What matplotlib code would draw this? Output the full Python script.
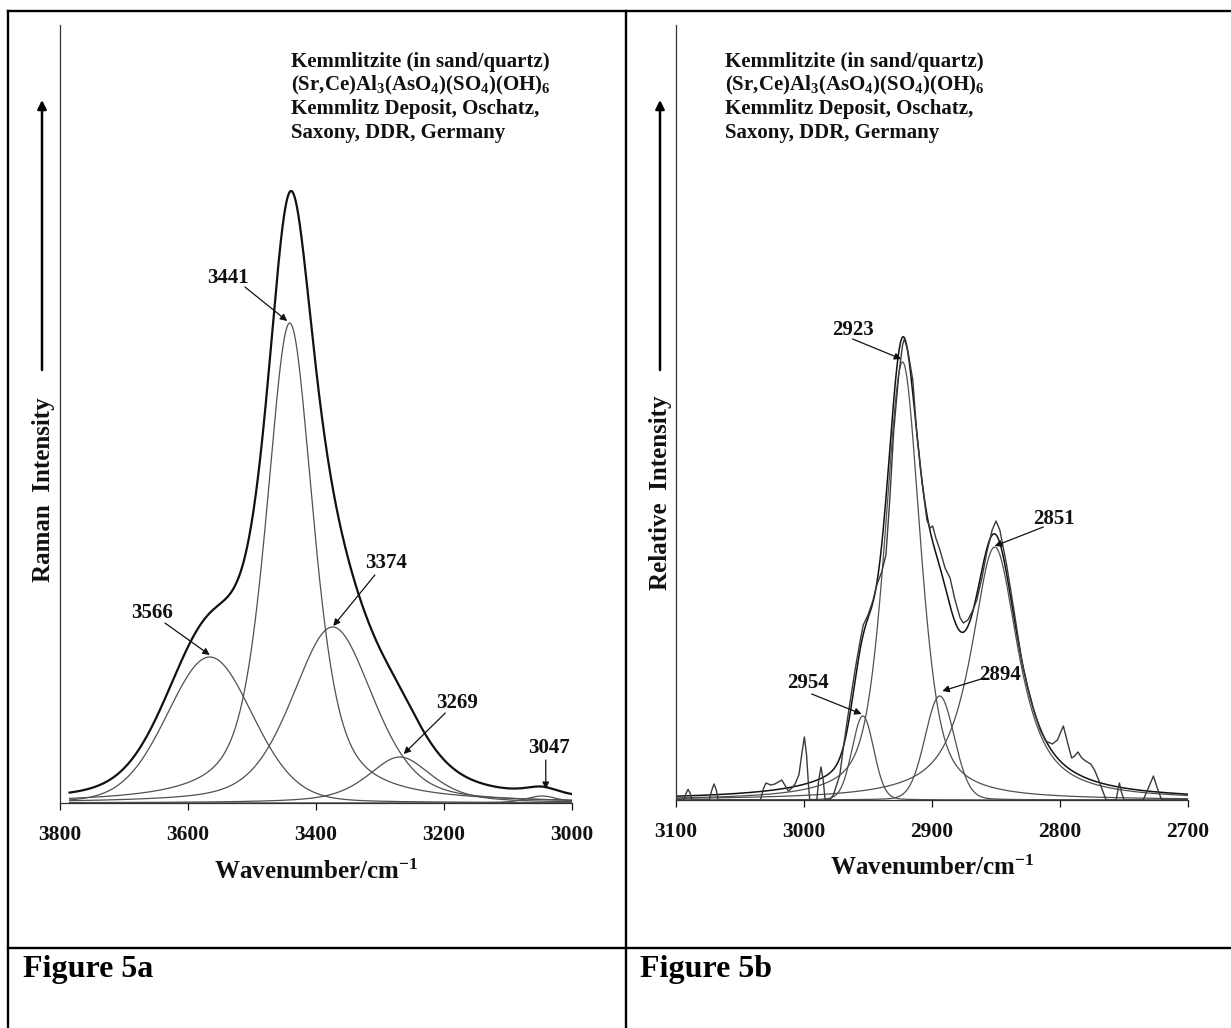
import numpy as np
import matplotlib

matplotlib.use("Agg")
import matplotlib.pyplot as plt
from matplotlib.lines import Line2D

plt.rcParams["font.family"] = ["Liberation Serif", "DejaVu Serif"]
plt.rcParams["font.weight"] = "bold"
plt.rcParams["mathtext.fontset"] = "custom"
plt.rcParams["mathtext.rm"] = "Liberation Serif:bold"
plt.rcParams["mathtext.bf"] = "Liberation Serif:bold"
plt.rcParams["mathtext.it"] = "Liberation Serif:bold"

W, H = 1231, 1028
INK = "#111111"
BAND = "#505050"

# ---- Figure 5a: OH stretching region (fitted bands) ----
A_CENTERS = [3566, 3441, 3374, 3269, 3047]
A_HEIGHTS = [146, 480, 176, 46, 7]
A_FWHM = [158, 88, 150, 120, 60]
A_ETA = [0.15, 0.6, 0.4, 0.6, 0.5]
A_TICKS = [3800, 3600, 3400, 3200, 3000]

# ---- Figure 5b: CH stretching region ----
B_CENTERS = [2954, 2923, 2894, 2851]
B_HEIGHTS = [84, 438, 104, 253]
B_FWHM = [20, 33, 27, 44]
B_ETA = [0.1, 0.55, 0.1, 0.85]
B_TICKS = [3100, 3000, 2900, 2800, 2700]

B_OBS_WN = [3100, 3094, 3092, 3090.6, 3089, 3087.5, 3074, 3072, 3070.3, 3068.5, 3067,
            3034, 3031.5, 3029.7, 3026, 3022.7, 3020, 3017.4, 3014.5, 3012.2, 3009.5,
            3007, 3004, 3001.5, 2999.7, 2998, 2996.5, 2995.5, 2990, 2988.5, 2986.7,
            2985, 2983.5, 2980, 2977, 2975.8, 2972, 2969.3, 2965, 2960, 2956, 2953.7,
            2950, 2946, 2943.2, 2939.3, 2936, 2933, 2930, 2926, 2923, 2921.6, 2919,
            2915, 2911.9, 2908, 2904, 2901.5, 2899.5, 2897, 2893.8, 2889.8, 2885.9,
            2882, 2878, 2875.5, 2872, 2868, 2865, 2861, 2857.3, 2853, 2850, 2847,
            2841.7, 2836, 2833, 2829.4, 2825, 2820.3, 2815.5, 2811.2, 2806, 2802,
            2797.4, 2795, 2793, 2790.9, 2788.5, 2786, 2783, 2780, 2776, 2773, 2769.5,
            2764, 2756.2, 2755, 2753.6, 2752, 2750, 2735, 2731, 2727, 2724, 2720.6, 2700]
B_OBS_INT = [0, 0, 7, 10.7, 7, 0, 0, 10, 16, 10, 0,
             0, 12, 17, 15, 16, 18, 20, 14, 9, 12,
             16, 25, 48, 63, 45, 15, 0, 0, 20, 33,
             20, 0, 0, 5, 10, 25, 52, 90, 131, 160, 175,
             185, 200, 215, 228, 245, 300, 367, 425, 455, 461, 450,
             420, 367, 320, 280, 272, 274, 262, 250, 232, 222,
             200, 182, 177, 180, 190, 200, 222, 247, 270, 279, 270,
             235, 190, 165, 136, 112, 89, 70, 59, 56, 60,
             74, 62, 52, 42, 44, 48, 42, 39, 36, 30, 19,
             0, 0, 8, 17, 8, 0, 0, 12, 24, 12, 0, 0]


def pseudo_voigt(x, center, height, fwhm, eta):
    hw = fwhm / 2.0
    u = (x - center) / hw
    lor = 1.0 / (1.0 + u ** 2)
    gau = np.exp(-np.log(2) * u ** 2)
    return height * (eta * lor + (1 - eta) * gau)


def px(x, y):
    return x / W, 1 - y / H


def style_axes(ax, ticks, xlim, ylim):
    ax.set_xlim(*xlim)
    ax.set_ylim(*ylim)
    for side in ("top", "right"):
        ax.spines[side].set_visible(False)
    for side in ("left", "bottom"):
        ax.spines[side].set_color("#333333")
        ax.spines[side].set_linewidth(0.9)
    ax.set_yticks([])
    ax.set_xticks(ticks)
    ax.set_xticklabels([str(t) for t in ticks])
    ax.tick_params(axis="x", direction="out", length=5, width=0.9, pad=11,
                   labelsize=15.5, colors=INK)
    ax.patch.set_alpha(0)


def arrow(ax, tip, tail):
    ax.annotate("", xy=tip, xytext=tail,
                arrowprops=dict(arrowstyle="-|>", color=INK, lw=0.9,
                                mutation_scale=10, shrinkA=0, shrinkB=0))


TITLE = ["Kemmlitzite (in sand/quartz)",
         r"(Sr,Ce)Al$_{3}$(AsO$_{4}$)(SO$_{4}$)(OH)$_{6}$",
         "Kemmlitz Deposit, Oschatz,",
         "Saxony, DDR, Germany"]

fig = plt.figure(figsize=(W / 100, H / 100), dpi=100, facecolor="white")

# table frame
for (x0, y0, x1, y1) in [(8, 11, W, 11), (8, 11, 8, H), (626, 11, 626, H), (8, 948, W, 948)]:
    a, b = px(x0, y0)
    c, d = px(x1, y1)
    fig.add_artist(Line2D([a, c], [b, d], color="black", lw=1.7))

# ---- panel a ----
axa = fig.add_axes([60 / W, 1 - 803 / H, 512 / W, 778 / H])
wn_a = np.linspace(3785, 3000, 900)
comps_a = [pseudo_voigt(wn_a, c, h, f, e) for c, h, f, e in zip(A_CENTERS, A_HEIGHTS, A_FWHM, A_ETA)]
for comp in comps_a:
    axa.plot(wn_a, comp, color=BAND, lw=0.9)
axa.plot(wn_a, np.sum(comps_a, axis=0), color=INK, lw=1.6)
style_axes(axa, A_TICKS, (3800, 3000), (0, 778))

a_label_pos = [(3656, 190), (3537, 525), (3290, 240), (3180, 100), (3036, 55)]
a_tails = [(3636, 180), (3511, 516), (3308, 228), (3198, 90), (3041, 43)]
a_tips = [(3566, 148), (3445, 482), (3373, 177), (3263, 49), (3041, 14)]
for c, lp, tail, tip in zip(A_CENTERS, a_label_pos, a_tails, a_tips):
    axa.text(lp[0], lp[1], str(c), ha="center", va="center", fontsize=15, color=INK)
    arrow(axa, tip, tail)

# ---- panel b ----
axb = fig.add_axes([676 / W, 1 - 800 / H, 512 / W, 775 / H])
wn_b = np.linspace(3100, 2700, 900)
comps_b = [pseudo_voigt(wn_b, c, h, f, e) for c, h, f, e in zip(B_CENTERS, B_HEIGHTS, B_FWHM, B_ETA)]
for comp in comps_b:
    axb.plot(wn_b, comp, color=BAND, lw=0.9)
axb.plot(wn_b, np.sum(comps_b, axis=0), color=INK, lw=1.1)
axb.plot(B_OBS_WN, B_OBS_INT, color="#3a3a3a", lw=1.0)
style_axes(axb, B_TICKS, (3100, 2700), (0, 775))

b_label_pos = [(2997, 117), (2962, 470), (2847, 125), (2805, 281)]
b_tails = [(2994, 106), (2962, 461), (2859, 122), (2813, 273)]
b_tips = [(2955, 86), (2924, 441), (2892, 109), (2851, 254)]
for c, lp, tail, tip in zip(B_CENTERS, b_label_pos, b_tails, b_tips):
    axb.text(lp[0], lp[1], str(c), ha="center", va="center", fontsize=15, color=INK)
    arrow(axb, tip, tail)

# ---- titles, axis labels, captions ----
for x0 in (291, 725):
    for i, line in enumerate(TITLE):
        fig.text(*px(x0, 62 + i * 23.7), line, fontsize=15, ha="left", va="center", color=INK)

fig.text(*px(316, 872), r"Wavenumber/cm$^{-1}$", fontsize=18, ha="center", va="center", color=INK)
fig.text(*px(932, 868), r"Wavenumber/cm$^{-1}$", fontsize=18, ha="center", va="center", color=INK)

fig.text(*px(44, 490), "Raman  Intensity", fontsize=18, rotation=90, ha="center", va="center", color=INK)
fig.text(*px(660, 493), "Relative  Intensity", fontsize=18, rotation=90, ha="center", va="center", color=INK)
for x0 in (42, 660):
    axa.annotate("", xy=px(x0, 100), xycoords="figure fraction",
                 xytext=px(x0, 370), textcoords="figure fraction",
                 arrowprops=dict(arrowstyle="-|>", color="black", lw=1.8, mutation_scale=13,
                                 shrinkA=0, shrinkB=0))

fig.text(*px(23, 970), "Figure 5a", fontsize=23, ha="left", va="center", color="black")
fig.text(*px(640, 970), "Figure 5b", fontsize=23, ha="left", va="center", color="black")

fig.savefig("out.png", dpi=100, facecolor="white")
